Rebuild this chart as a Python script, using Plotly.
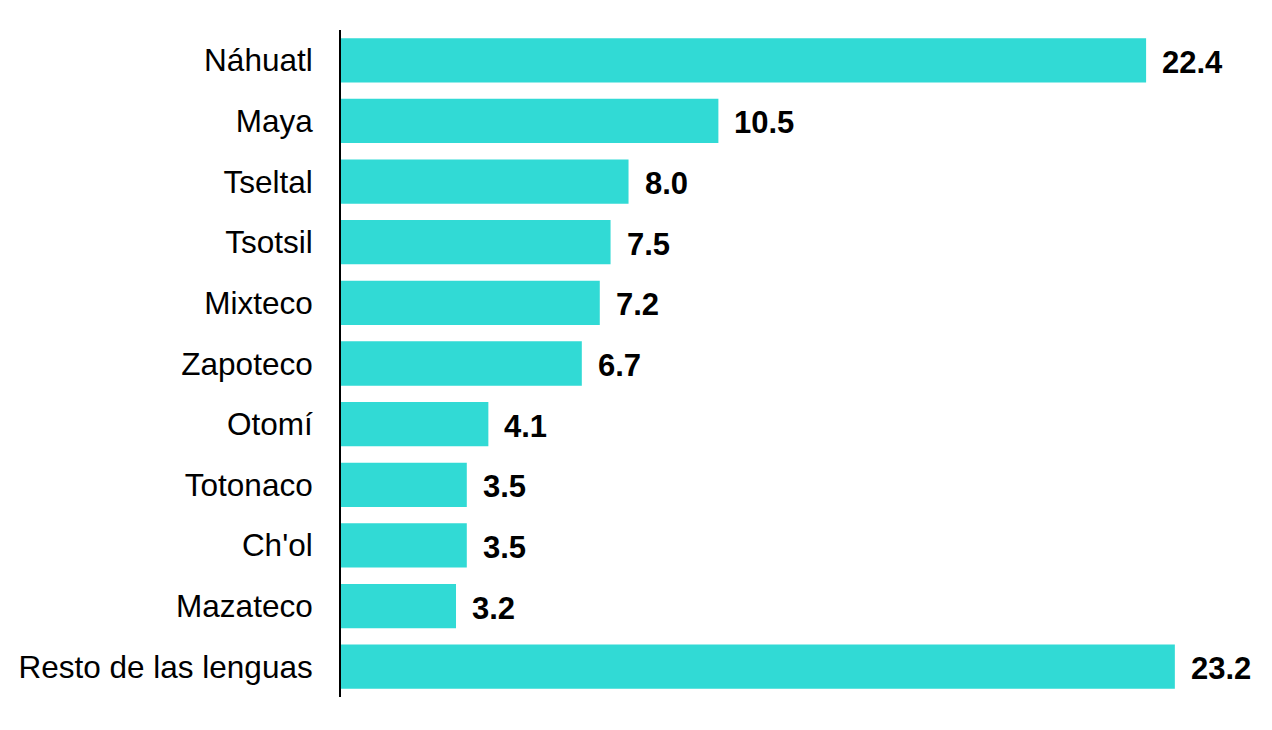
import plotly.graph_objects as go

languages = ["Náhuatl", "Maya", "Tseltal", "Tsotsil", "Mixteco", "Zapoteco",
             "Otomí", "Totonaco", "Ch'ol", "Mazateco", "Resto de las lenguas"]
values = [22.4, 10.5, 8.0, 7.5, 7.2, 6.7, 4.1, 3.5, 3.5, 3.2, 23.2]
labels = [f"{v:.1f}" for v in values]

FONT = "Liberation Sans, Arial, Helvetica"

fig = go.Figure()
fig.add_trace(go.Bar(
    x=values, y=languages, orientation="h",
    marker=dict(color="#31DAD5", line=dict(width=0)),
    hoverinfo="x+y",
))

for lang, v, t in zip(languages, values, labels):
    fig.add_annotation(x=v, y=lang, text=f"<b>{t}</b>", showarrow=False,
                       xanchor="left", xshift=14, yshift=-2,
                       font=dict(family=FONT, size=31, color="black"))

fig.update_layout(
    width=1272, height=730,
    margin=dict(l=333, r=25, t=22, b=41, autoexpand=False),
    plot_bgcolor="white", paper_bgcolor="white",
    bargap=0.27,
    showlegend=False,
    font=dict(family=FONT, size=31, color="black"),
)
fig.update_xaxes(range=[0, 25.43], visible=False, showgrid=False, zeroline=False)
fig.update_yaxes(autorange="reversed", showline=True, linecolor="black", linewidth=2,
                 ticks="", showgrid=False, ticklabelstandoff=20, automargin=False,
                 tickfont=dict(family=FONT, size=31.5, color="black"))

fig.write_html("out.html")
